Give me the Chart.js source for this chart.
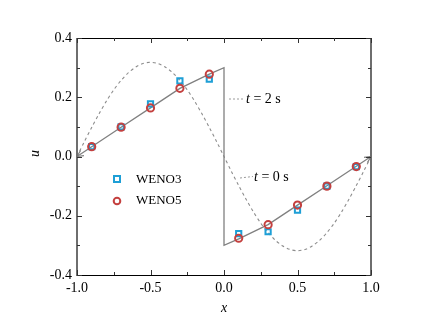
<!DOCTYPE html>
<html>
<head>
<meta charset="utf-8">
<script src="https://cdn.jsdelivr.net/npm/chart.js@4/dist/chart.umd.min.js"></script>
<style>
  html, body { margin: 0; padding: 0; background: #fff; }
  #wrap { width: 431px; height: 330px; }
</style>
</head>
<body>
<div id="wrap"><canvas id="grafico" width="431" height="330"></canvas></div>
<script>
// puntos de muestreo de los esquemas
var xPts = [-0.9, -0.7, -0.5, -0.3, -0.1, 0.1, 0.3, 0.5, 0.7, 0.9];
var weno3 = [0.033, 0.100, 0.178, 0.255, 0.261, -0.260, -0.254, -0.181, -0.100, -0.034];
var weno5 = [0.033, 0.099, 0.164, 0.230, 0.278, -0.276, -0.230, -0.164, -0.100, -0.034];

// solucion exacta t = 2 s
var t2X = [-1.0, -0.9, -0.7, -0.5, -0.3, -0.1, 0.0, 0.0, 0.1, 0.3, 0.5, 0.7, 0.9, 1.0];
var t2Y = [0.000, 0.033, 0.099, 0.164, 0.230, 0.278, 0.300, -0.300, -0.278, -0.230, -0.164, -0.099, -0.033, 0.000];

// condicion inicial t = 0 s
var t0X = [-1.0, -0.95, -0.9, -0.85, -0.8, -0.75, -0.7, -0.65, -0.6, -0.55, -0.5, -0.45, -0.4, -0.35, -0.3, -0.25, -0.2, -0.15, -0.1, -0.05,
           0.0, 0.05, 0.1, 0.15, 0.2, 0.25, 0.3, 0.35, 0.4, 0.45, 0.5, 0.55, 0.6, 0.65, 0.7, 0.75, 0.8, 0.85, 0.9, 0.95, 1.0];
var t0Y = [0.000, 0.050, 0.098, 0.144, 0.187, 0.225, 0.257, 0.283, 0.302, 0.314, 0.318, 0.314, 0.302, 0.283, 0.257, 0.225, 0.187, 0.144, 0.098, 0.050,
           0.000, -0.050, -0.098, -0.144, -0.187, -0.225, -0.257, -0.283, -0.302, -0.314, -0.318, -0.314, -0.302, -0.283, -0.257, -0.225, -0.187, -0.144, -0.098, -0.050, 0.000];

var xTicks = [-1.0, -0.5, 0.0, 0.5, 1.0];
var yTicks = [-0.4, -0.2, 0.0, 0.2, 0.4];
var xMinor = [-0.75, -0.25, 0.25, 0.75];
var yMinor = [-0.3, -0.1, 0.1, 0.3];

var FUENTE = '"Liberation Serif", "Times New Roman", serif';

function pares(xs, ys) {
	return xs.map(function(x, i){ return {x: x, y: ys[i]}; });
}

var marco = {
	id: 'marco',
	afterDraw: function(chart) {
		var c = chart.ctx, a = chart.chartArea;
		var sx = chart.scales.x, sy = chart.scales.y;
		c.save();

		// flechas en los extremos de la linea t = 2 s
		c.strokeStyle = '#808080';
		c.lineWidth = 1.2;
		function flecha(x0, y0, x1, y1) {
			var ang = Math.atan2(y1 - y0, x1 - x0);
			var L = 7, ab = 0.45;
			c.beginPath();
			c.moveTo(x1 - L * Math.cos(ang - ab), y1 - L * Math.sin(ang - ab));
			c.lineTo(x1, y1);
			c.lineTo(x1 - L * Math.cos(ang + ab), y1 - L * Math.sin(ang + ab));
			c.stroke();
		}
		var n = t2X.length;
		flecha(sx.getPixelForValue(t2X[n-2]), sy.getPixelForValue(t2Y[n-2]), sx.getPixelForValue(t2X[n-1]), sy.getPixelForValue(t2Y[n-1]));
		flecha(sx.getPixelForValue(t2X[1]), sy.getPixelForValue(t2Y[1]), sx.getPixelForValue(t2X[0]), sy.getPixelForValue(t2Y[0]));

		// marco
		c.strokeStyle = '#000';
		c.lineWidth = 1;
		c.beginPath();
		c.moveTo(a.left, a.top + 0.5); c.lineTo(a.right, a.top + 0.5);
		c.moveTo(a.left, a.bottom + 0.5); c.lineTo(a.right, a.bottom + 0.5);
		c.stroke();
		c.strokeStyle = '#6e6e6e';
		c.lineWidth = 2;
		c.beginPath();
		c.moveTo(a.left, a.top); c.lineTo(a.left, a.bottom + 1);
		c.moveTo(a.right, a.top); c.lineTo(a.right, a.bottom + 1);
		c.stroke();

		// marcas hacia dentro
		c.strokeStyle = '#333';
		c.lineWidth = 1;
		c.beginPath();
		function marcasX(vals, len) {
			vals.forEach(function(v){
				var px = Math.round(sx.getPixelForValue(v)) + 0.5;
				c.moveTo(px, a.bottom); c.lineTo(px, a.bottom - len);
				c.moveTo(px, a.top); c.lineTo(px, a.top + len);
			});
		}
		function marcasY(vals, len) {
			vals.forEach(function(v){
				var py = Math.round(sy.getPixelForValue(v)) + 0.5;
				c.moveTo(a.left, py); c.lineTo(a.left + len, py);
				c.moveTo(a.right, py); c.lineTo(a.right - len, py);
			});
		}
		marcasX(xTicks, 5); marcasX(xMinor, 3);
		marcasY(yTicks, 5); marcasY(yMinor, 3);
		c.stroke();

		// titulos de ejes
		c.fillStyle = '#000';
		c.font = 'italic 14px ' + FUENTE;
		c.textAlign = 'center';
		c.textBaseline = 'middle';
		c.fillText('x', (a.left + a.right) / 2, 308);
		c.save();
		c.translate(35, (a.top + a.bottom) / 2 - 3);
		c.rotate(-Math.PI / 2);
		c.fillText('u', 0, 0);
		c.restore();

		// etiquetas t = 2 s, t = 0 s
		function etiqueta(x, y, resto) {
			c.textAlign = 'left';
			c.font = 'italic 14px ' + FUENTE;
			c.fillText('t', x, y);
			var w = c.measureText('t').width;
			c.font = '14px ' + FUENTE;
			c.fillText(resto, x + w, y);
		}
		c.strokeStyle = '#808080';
		c.lineWidth = 0.8;
		c.setLineDash([2, 2]);
		c.beginPath();
		c.moveTo(229, 99); c.lineTo(244, 99);
		c.moveTo(240, 178); c.lineTo(253, 176.5);
		c.stroke();
		c.setLineDash([]);
		etiqueta(246, 99, ' = 2 s');
		etiqueta(254, 177, ' = 0 s');

		// leyenda
		c.lineWidth = 2;
		c.strokeStyle = '#1E9FD6';
		c.strokeRect(114, 176, 6, 6);
		c.strokeStyle = '#C4403F';
		c.beginPath();
		c.arc(117, 201, 3.3, 0, Math.PI * 2);
		c.stroke();
		c.font = '13px ' + FUENTE;
		c.textAlign = 'left';
		c.fillStyle = '#000';
		c.fillText('WENO3', 136, 180);
		c.fillText('WENO5', 136, 201);

		c.restore();
	}
};

function etiquetaTick(v) { return Number(v).toFixed(1); }

new Chart(document.getElementById('grafico'), {
	type: 'scatter',
	data: {
		datasets: [
			{
				label: 'WENO5',
				data: pares(xPts, weno5),
				pointStyle: 'circle',
				pointRadius: 3.6,
				borderColor: '#C4403F',
				backgroundColor: 'rgba(0,0,0,0)',
				borderWidth: 2,
				order: 0
			},
			{
				label: 'WENO3',
				data: pares(xPts, weno3),
				pointStyle: 'rect',
				pointRadius: 3.7,
				borderColor: '#1E9FD6',
				backgroundColor: 'rgba(0,0,0,0)',
				borderWidth: 2,
				order: 1
			},
			{
				label: 't = 2 s',
				data: pares(t2X, t2Y),
				showLine: true,
				pointRadius: 0,
				borderColor: '#808080',
				borderWidth: 1.3,
				tension: 0,
				order: 2
			},
			{
				label: 't = 0 s',
				data: pares(t0X, t0Y),
				showLine: true,
				pointRadius: 0,
				borderColor: '#8c8c8c',
				borderWidth: 1.1,
				borderDash: [3, 3],
				tension: 0.3,
				order: 3
			}
		]
	},
	options: {
		responsive: false,
		animation: false,
		layout: { padding: { left: 0, right: 60, top: 38, bottom: 0 } },
		plugins: { legend: { display: false }, tooltip: { enabled: false } },
		scales: {
			x: {
				type: 'linear', min: -1, max: 1,
				afterBuildTicks: function(s){ s.ticks = xTicks.map(function(v){ return {value: v}; }); },
				afterFit: function(s){ s.height = 55; },
				grid: { display: false, drawTicks: false },
				border: { display: false },
				ticks: { callback: etiquetaTick, color: '#000', padding: 5, maxRotation: 0, font: { family: FUENTE, size: 14 } }
			},
			y: {
				type: 'linear', min: -0.4, max: 0.4,
				afterBuildTicks: function(s){ s.ticks = yTicks.map(function(v){ return {value: v}; }); },
				afterFit: function(s){ s.width = 77; },
				grid: { display: false, drawTicks: false },
				border: { display: false },
				ticks: { callback: etiquetaTick, color: '#000', padding: 5, font: { family: FUENTE, size: 14 } }
			}
		}
	},
	plugins: [marco]
});
</script>
</body>
</html>
